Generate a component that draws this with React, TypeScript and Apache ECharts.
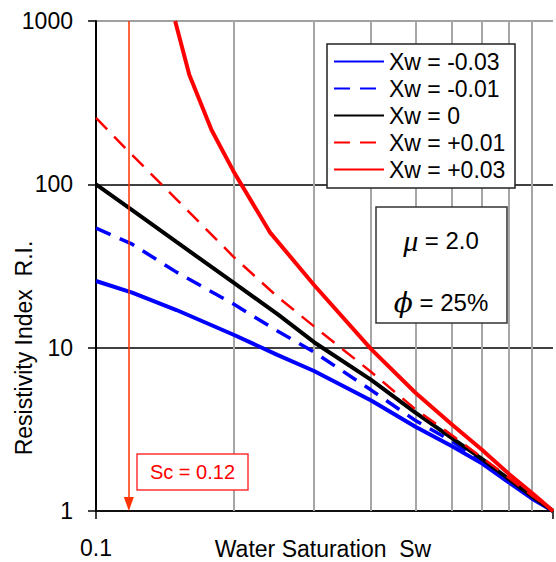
import React, { useEffect, useRef } from "react";
import * as echarts from "echarts";

const FONT = '"Liberation Sans", Arial, sans-serif';

// Water saturation sample points (shared by most curves)
const SW = [0.1, 0.12, 0.15, 0.2, 0.25, 0.3, 0.4, 0.5, 0.6, 0.7, 0.8, 0.9, 1.0];
const RI_XW_M003 = [25.6, 21.7, 17, 12, 9.0, 7.2, 4.75, 3.28, 2.5, 1.95, 1.5, 1.19, 1];
const RI_XW_M001 = [54, 43, 29, 18.5, 12.6, 9.4, 5.5, 3.58, 2.68, 2.0, 1.53, 1.21, 1];
const RI_XW_0 = [100, 69.4, 44.4, 25, 16, 10.8, 6.35, 4.0, 2.8, 2.08, 1.57, 1.23, 1];
const RI_XW_P001 = [255, 151, 81, 36, 20.4, 13.5, 7.1, 4.2, 2.92, 2.12, 1.6, 1.24, 1];
const SW_P003 = [0.149, 0.16, 0.179, 0.2, 0.24, 0.3, 0.4, 0.5, 0.6, 0.7, 0.8, 0.9, 1.0];
const RI_XW_P003 = [1000, 468, 215, 120, 51, 24.2, 9.8, 5.3, 3.4, 2.36, 1.69, 1.29, 1];

const NAMES = ["Xw = -0.03", "Xw = -0.01", "Xw = 0", "Xw = +0.01", "Xw = +0.03"];
const V_GRID = [0.2, 0.3, 0.4, 0.5, 0.6, 0.7, 0.8, 0.9];
const SC = 0.118;
const SC_LABEL = "Sc = 0.12";
const MU_LABEL = "{g|μ} = 2.0";
const PHI_LABEL = "{g|ϕ} = 25%";
const X_TITLE = "Water Saturation  Sw";
const Y_TITLE = "Resistivity Index  R.I.";

const pairs = (xs: number[], ys: number[]) => xs.map((x, i) => [x, ys[i]]);

export default function App() {
  const ref = useRef<HTMLDivElement>(null);
  useEffect(() => {
    if (!ref.current) return;
    const chart = echarts.init(ref.current, null, { renderer: "svg" });
    const lineSeries = (name: string, data: number[][], color: string, width: number, dashed: boolean) => ({
      name,
      type: "line",
      data,
      showSymbol: false,
      symbol: "circle",
      z: 3,
      lineStyle: { color, width, type: dashed ? [16, 10] : "solid" },
      itemStyle: { color },
    });
    chart.setOption({
      animation: false,
      grid: { left: 96, top: 21, width: 465, height: 490 },
      xAxis: {
        type: "log",
        logBase: 10,
        min: 0.1,
        max: 1,
        axisLine: { show: true, onZero: false, lineStyle: { color: "#000", width: 1.5 } },
        axisTick: { show: true, length: 8, lineStyle: { color: "#000", width: 1.5 } },
        axisLabel: {
          formatter: (v: number) => (v < 0.5 ? "0.1" : ""),
          fontSize: 23,
          color: "#000",
          fontFamily: FONT,
          margin: 25,
        },
        splitLine: { show: false },
      },
      yAxis: {
        type: "log",
        logBase: 10,
        min: 1,
        max: 1000,
        axisLine: { show: true, onZero: false, lineStyle: { color: "#000", width: 2 } },
        axisTick: { show: true, length: 8, lineStyle: { color: "#000", width: 1.5 } },
        axisLabel: {
          formatter: (v: number) => String(Math.round(v)),
          fontSize: 23,
          color: "#000",
          fontFamily: FONT,
          margin: 23,
        },
        splitLine: { show: true, lineStyle: { color: ["#000", "#000", "#000", "#808080"], width: 1.5 } },
      },
      legend: {
        data: NAMES,
        orient: "vertical",
        left: 327,
        top: 44,
        itemWidth: 50,
        itemHeight: 14,
        itemGap: 4,
        padding: [6, 6, 7, 6],
        backgroundColor: "#fff",
        borderColor: "#222",
        borderWidth: 1.5,
        borderRadius: 0,
        z: 10,
        itemStyle: { opacity: 0 },
        formatter: (name: string) => "{t|" + name + "}",
        textStyle: {
          fontSize: 23,
          lineHeight: 22,
          color: "#000",
          fontFamily: FONT,
          rich: { t: { width: 120, fontSize: 23, lineHeight: 22, color: "#000", fontFamily: FONT } },
        },
      },
      series: [
        {
          type: "line",
          data: [],
          z: 1,
          silent: true,
          markLine: {
            z: 1,
            silent: true,
            symbol: "none",
            label: { show: false },
            lineStyle: { color: "#a6a6a6", width: 2, type: "solid" },
            data: V_GRID.map((v) => ({ xAxis: v })),
          },
        },
        {
          type: "line",
          data: [],
          z: 5,
          silent: true,
          markLine: {
            silent: true,
            symbol: ["none", "triangle"],
            symbolSize: [10, 14],
            label: { show: false },
            lineStyle: { color: "#ff3300", width: 1.5, type: "solid" },
            itemStyle: { color: "#ff3300" },
            data: [[{ coord: [SC, 1000] }, { coord: [SC, 1.104] }]],
          },
        },
        lineSeries(NAMES[0], pairs(SW, RI_XW_M003), "#0000ff", 4, false),
        lineSeries(NAMES[1], pairs(SW, RI_XW_M001), "#0000ff", 3.5, true),
        lineSeries(NAMES[2], pairs(SW, RI_XW_0), "#000000", 4, false),
        lineSeries(NAMES[3], pairs(SW, RI_XW_P001), "#ff0000", 2.5, true),
        lineSeries(NAMES[4], pairs(SW_P003, RI_XW_P003), "#ff0000", 4, false),
      ],
      graphic: [
        {
          type: "rect",
          z: 100,
          shape: { x: 137, y: 454, width: 111, height: 36 },
          style: { fill: "#fff", stroke: "#ff3333", lineWidth: 1.5 },
        },
        {
          type: "text",
          z: 101,
          x: 192.5,
          y: 472,
          style: { text: SC_LABEL, fill: "#ff0000", fontSize: 20, fontFamily: FONT, align: "center", verticalAlign: "middle" },
        },
        {
          type: "rect",
          z: 100,
          shape: { x: 376, y: 207, width: 131, height: 116 },
          style: { fill: "#fff", stroke: "#333", lineWidth: 1.5 },
        },
        {
          type: "text",
          z: 101,
          x: 441,
          y: 240,
          style: {
            text: MU_LABEL,
            fill: "#000",
            fontSize: 24,
            fontFamily: FONT,
            align: "center",
            verticalAlign: "middle",
            rich: { g: { fontSize: 30, fontStyle: "italic", fontFamily: '"Liberation Serif", serif', fill: "#000" } },
          },
        },
        {
          type: "text",
          z: 101,
          x: 441,
          y: 302,
          style: {
            text: PHI_LABEL,
            fill: "#000",
            fontSize: 24,
            fontFamily: FONT,
            align: "center",
            verticalAlign: "middle",
            rich: { g: { fontSize: 28, fontStyle: "italic", fontFamily: '"DejaVu Serif", serif', fill: "#000" } },
          },
        },
        {
          type: "text",
          z: 101,
          x: 323,
          y: 549,
          style: { text: X_TITLE, fill: "#000", fontSize: 23, fontFamily: FONT, align: "center", verticalAlign: "middle" },
        },
        {
          type: "text",
          z: 101,
          x: 24,
          y: 348,
          rotation: Math.PI / 2,
          style: { text: Y_TITLE, fill: "#000", fontSize: 23, fontFamily: FONT, align: "center", verticalAlign: "middle" },
        },
      ],
    });
    return () => chart.dispose();
  }, []);
  return (
    <div
      ref={ref}
      style={{ position: "fixed", left: 0, top: 0, width: 556, height: 562, background: "#fff" }}
    />
  );
}
